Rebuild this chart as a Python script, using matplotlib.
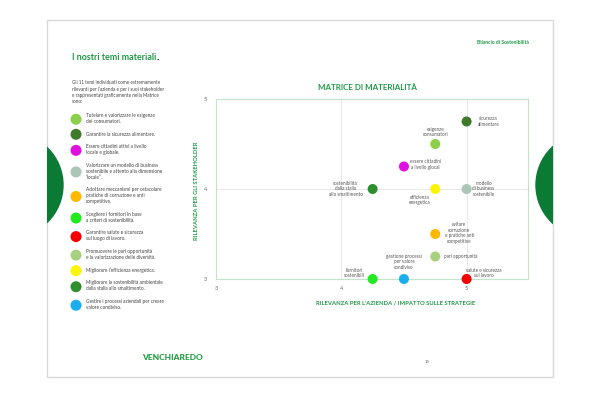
import matplotlib
matplotlib.use("Agg")
import matplotlib.pyplot as plt
from matplotlib.patches import Rectangle, Circle

plt.rcParams["font.family"] = ["Lato", "DejaVu Sans"]

# materiality topics, in legend order
topics = [
    "Tutelare e valorizzare le esigenze\ndei consumatori.",
    "Garantire la sicurezza alimentare.",
    "Essere cittadini attivi a livello\nlocale e globale.",
    "Valorizzare un modello di business\nsostenibile e attento alla dimensione\n\u201clocale\u201d.",
    "Adottare meccanismi per ostacolare\npratiche di corruzione e anti\ncompetitive.",
    "Scegliere i fornitori in base\na criteri di sostenibilità.",
    "Garantire salute e sicurezza\nsul luogo di lavoro.",
    "Promuovere le pari opportunità\ne la valorizzazione delle diversità.",
    "Migliorare l\u2019efficienza energetica.",
    "Migliorare la sostenibilità ambientale\ndalla stalla allo smaltimento.",
    "Gestire i processi aziendali per creare\nvalore condiviso.",
]
short_labels = [
    "esigenze\nconsumatori",
    "sicurezza\nalimentare",
    "essere cittadini\na livello glocal",
    "modello\ndi business\nsostenibile",
    "evitare\ncorruzione\ne pratiche anti\ncompetitive",
    "fornitori\nsostenibili",
    "salute e sicurezza\nsul lavoro",
    "pari opportunità",
    "efficienza\nenergetica",
    "sostenibilità\ndalla stalla\nallo smaltimento",
    "gestione processi\nper valore\ncondiviso",
]
impact = [4.75, 5.0, 4.5, 5.0, 4.75, 4.25, 5.0, 4.75, 4.75, 4.25, 4.5]
stakeholder = [4.5, 4.75, 4.25, 4.0, 3.5, 3.0, 3.0, 3.25, 4.0, 4.0, 3.0]
colors = ["#8ccf4a", "#3f7a2b", "#e010e0", "#abc6b6", "#ffb800", "#22ea22",
          "#f40000", "#a8d07e", "#fbf500", "#2e8f2e", "#1aaeee"]
ticks = [3, 4, 5]

# label placement (offset in px, horizontal alignment)
label_pos = [((0, 12), "center"), ((22, 0), "center"), ((6, 2), "left"),
             ((17, 0), "center"), ((24, 1), "center"), ((-18, 6), "center"),
             ((17, 6), "center"), ((9, 0), "left"), ((-16, -11), "center"),
             ((-27, 0), "center"), ((0, 17), "center")]

GREEN = "#1f9a47"
DARK_GREEN = "#0b7a35"
W, H = 600, 400


def fx(x):
    return x / W


def fy(y):
    return 1 - y / H


def draw_page(fig):
    bg = fig.add_axes([0, 0, 1, 1], zorder=0)
    bg.set_xlim(0, W)
    bg.set_ylim(H, 0)
    bg.axis("off")
    page = Rectangle((47, 20), 506, 357, facecolor="white", edgecolor="#d9d9d9", lw=1)
    bg.add_patch(page)
    for cx in (11, 588):
        c = Circle((cx, 185), 52, color=DARK_GREEN)
        bg.add_patch(c)
        c.set_clip_path(page)

    fig.text(fx(529), fy(42), "Bilancio di Sostenibilità", ha="right", va="center",
             fontsize=3.6, fontweight="bold", color=GREEN)
    # heading, with a dark full stop glued to its end
    head = fig.text(fx(72), fy(60), "I nostri temi materiali", ha="left", va="baseline",
                    fontsize=6.4, fontweight="bold", color=GREEN)
    bg.annotate(".", xy=(1, fy(60)), xycoords=(head, "figure fraction"), ha="left",
                va="baseline", fontsize=7.5, fontweight="black", color="#222")
    fig.text(fx(72), fy(80),
             "Gli 11 temi individuati come estremamente\nrilevanti per l\u2019azienda e per i suoi stakeholder\n"
             "e rappresentati graficamente nella Matrice\nsono:",
             ha="left", va="top", fontsize=3.3, linespacing=1.3, color="#444")
    fig.text(fx(142), fy(357), "VENCHIAREDO", ha="left", va="center", fontsize=6,
             fontweight="black", color="#1c9a3c")
    fig.text(fx(427), fy(362), "18", ha="center", va="center", fontsize=3, color="#666")


def draw_matrix(fig):
    ax = fig.add_axes([fx(216), fy(279), fx(528 - 216), (279 - 99) / H], zorder=1)
    ax.set_facecolor("none")
    for i in range(len(topics)):
        ax.scatter(impact[i], stakeholder[i], s=52, color=colors[i], edgecolors="none",
                   label=topics[i], zorder=5, clip_on=False)
        (dx, dy), ha = label_pos[i]
        ax.annotate(short_labels[i], (impact[i], stakeholder[i]), xytext=(dx * 0.72, dy * 0.72),
                    textcoords="offset points", ha=ha, va="center", multialignment="center",
                    fontsize=3.3, linespacing=1.2, color="#555", zorder=6)
    ax.set_xlim(3, 5.49)
    ax.set_ylim(3, 5)
    ax.set_xticks(ticks)
    ax.set_yticks(ticks)
    ax.tick_params(length=0, labelsize=4, colors="#666")
    ax.tick_params(axis="y", pad=6.5)
    ax.tick_params(axis="x", pad=5)
    ax.grid(color="#e4e4e4", lw=0.6)
    ax.set_axisbelow(True)
    for s in ax.spines.values():
        s.set_color("#c2e4cb")
        s.set_linewidth(0.8)

    fig.text(fx(367), fy(87), "MATRICE DI MATERIALITÀ", ha="center", va="center",
             fontsize=5.8, fontweight="bold", color=GREEN)
    fig.text(fx(396), fy(303), "RILEVANZA PER L\u2019AZIENDA / IMPATTO SULLE STRATEGIE",
             ha="center", va="center", fontsize=4.2, fontweight="bold", color=GREEN)
    fig.text(fx(197), fy(191), "RILEVANZA PER GLI STAKEHOLDER", ha="center", va="center",
             rotation=90, fontsize=4.2, fontweight="bold", color=GREEN)

    handles, labels = ax.get_legend_handles_labels()
    leg = fig.legend(handles, labels, loc="upper left", bbox_to_anchor=(fx(71.3), fy(113)),
                     frameon=False, fontsize=3.4, labelspacing=1.6, handlelength=2,
                     handletextpad=1.1, borderpad=0, borderaxespad=0, markerscale=1.1,
                     scatterpoints=1)
    for t in leg.get_texts():
        t.set_color("#444")
        t.set_linespacing(1.25)


def main():
    fig = plt.figure(figsize=(6, 4), dpi=100)
    draw_page(fig)
    draw_matrix(fig)
    fig.savefig("out.png", dpi=100)


if __name__ == "__main__":
    main()
